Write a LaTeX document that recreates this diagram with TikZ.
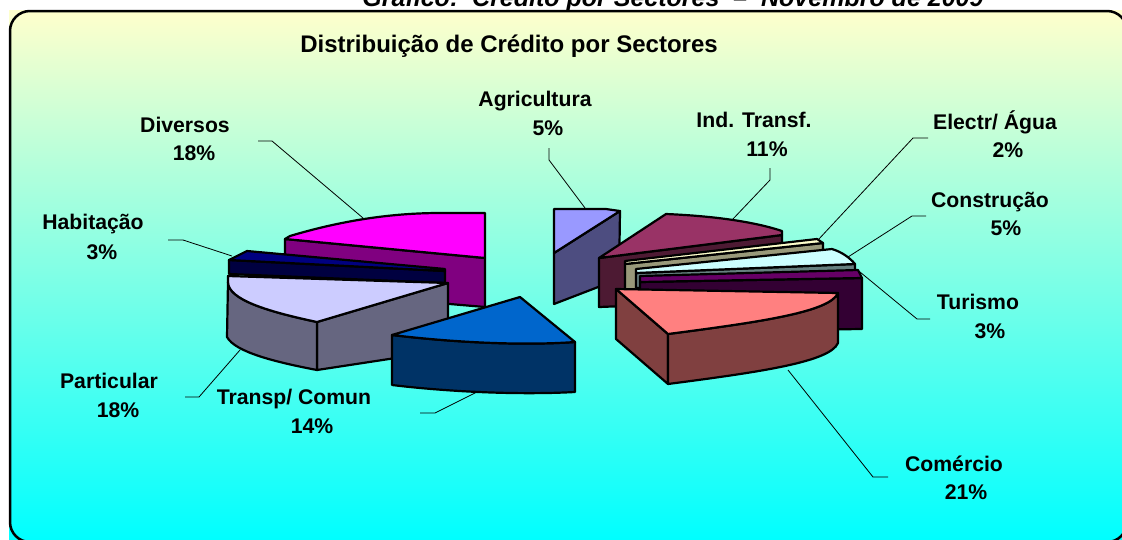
\documentclass[tikz,border=0pt]{standalone}
\usepackage{fontspec}
\setmainfont{Liberation Sans}
\definecolor{bgtop}{HTML}{FFFFCC}
\definecolor{bgbot}{HTML}{00FFFF}
\definecolor{agriT}{HTML}{9999FF}
\definecolor{agriS}{HTML}{4D4D80}
\definecolor{indT}{HTML}{993366}
\definecolor{indS}{HTML}{4D1A33}
\definecolor{eleT}{HTML}{FFFFCC}
\definecolor{eleS}{HTML}{99997A}
\definecolor{conT}{HTML}{CCFFFF}
\definecolor{conS}{HTML}{668080}
\definecolor{turT}{HTML}{660066}
\definecolor{turS}{HTML}{330033}
\definecolor{comT}{HTML}{FF8080}
\definecolor{comS}{HTML}{804040}
\definecolor{trT}{HTML}{0066CC}
\definecolor{trS}{HTML}{003366}
\definecolor{parT}{HTML}{CCCCFF}
\definecolor{parS}{HTML}{666680}
\definecolor{habT}{HTML}{000080}
\definecolor{habS}{HTML}{000040}
\definecolor{divT}{HTML}{FF00FF}
\definecolor{divS}{HTML}{800080}
\tikzset{
  slice/.style={draw=black, line width=2.2pt, line join=round},
  leader/.style={draw=black, line width=0.8pt},
  lbl/.style={anchor=base, inner sep=0pt, font=\fontsize{21.2}{25}\selectfont\bfseries},
  ttl/.style={anchor=base, inner sep=0pt, font=\fontsize{24}{28}\selectfont\bfseries},
  toptitle/.style={anchor=base, inner sep=0pt, font=\fontsize{25}{30}\selectfont\bfseries\itshape}
}
\begin{document}
\begin{tikzpicture}[x=1pt,y=-1pt]
\useasboundingbox (0,0) rectangle (1122,539);
\fill[white] (0,0) rectangle (1122,539);
% background panel
\shade[top color=bgtop, bottom color=bgbot] (9,10) rectangle (1122,539);
\draw[line width=2.5pt, rounded corners=20pt] (10,11) rectangle (1127,542);
% top (clipped) caption
\node[toptitle] (caption) at (673,6) {Gráfico:\ \ Crédito por Sectores\ \ –\ \ Novembro de 2009};
\node[ttl] (title) at (509,52) {Distribuição de Crédito por Sectores};

% ---------- right group ----------
% Agricultura
\draw[slice, fill=agriS] (554,253) -- (620,211) -- (619,279) -- (554,304) -- cycle;
\draw[slice, fill=agriT] (554,209) -- (606,209) -- (620,211) -- (554,253) -- cycle;
% Ind. Transf.
\draw[slice, fill=indS] (599,258) -- (782,235) -- (782,300) -- (599,307) -- cycle;
\draw[slice, fill=indT] (599,258) -- (666,214) .. controls (715,216) and (755,222) .. (782,231) -- (782,235) -- cycle;
% Electr/ Agua
\draw[slice, fill=eleS] (625,264) -- (823,243) -- (823,290) -- (625,292) -- cycle;
\draw[slice, fill=eleT] (625,261) -- (817,239) -- (823,243) -- (625,264) -- cycle;
% Construcao
\draw[slice, fill=conS] (636,273) -- (855,264) -- (855,290) -- (636,288) -- cycle;
\draw[slice, fill=conT] (636,269) -- (832,249) .. controls (842,252) and (850,258) .. (855,264) -- (636,273) -- cycle;
% Turismo
\draw[slice, fill=turS] (640,282) -- (862,278) -- (862,329) -- (640,332) -- cycle;
\draw[slice, fill=turT] (640,276) -- (858,270) -- (862,278) -- (640,282) -- cycle;
% Comercio
\draw[slice, fill=comS] (616,289) -- (668,334) -- (668,384) -- (616,339) -- cycle;
\draw[slice, fill=comS] (668,334) .. controls (760,322) and (830,312) .. (838,293) -- (838,343) .. controls (830,362) and (760,372) .. (668,384) -- cycle;
\draw[slice, fill=comT] (616,289) -- (838,293) .. controls (830,312) and (760,322) .. (668,334) -- cycle;

% ---------- left group ----------
% Diversos
\draw[slice, fill=divS] (285,239) -- (485,258) -- (485,307) -- (285,290) -- cycle;
\draw[slice, fill=divT] (285,239) -- (290,236) .. controls (340,221) and (390,213) .. (440,213) -- (485,213) -- (485,258) -- cycle;
% Habitacao
\draw[slice, fill=habS] (229,260) -- (445,271) -- (445,283) -- (229,274) -- cycle;
\draw[slice, fill=habT] (229,260) -- (247,251) -- (445,269) -- (445,271) -- cycle;
% Particular
\draw[slice, fill=parS] (317,322) -- (448,283) -- (448,350) -- (317,370) -- cycle;
\draw[slice, fill=parS] (228,282) .. controls (228,300) and (270,312) .. (317,322) -- (317,370) .. controls (275,362) and (235,352) .. (227,337) -- cycle;
\draw[slice, fill=parT] (228,276) -- (448,283) -- (317,322) .. controls (270,312) and (228,300) .. (228,282) -- cycle;
% Transp/ Comun
\draw[slice, fill=trS] (392,335) .. controls (450,342) and (520,346) .. (575,342) -- (575,392) .. controls (520,395) and (450,392) .. (392,385) -- cycle;
\draw[slice, fill=trT] (392,335) -- (520,297) -- (575,342) .. controls (520,346) and (450,342) .. (392,335) -- cycle;

% ---------- labels ----------
\node[lbl] (divN) at (185,132) {Diversos};
\node[lbl] (divP) at (194,160) {18\%};
\node[lbl] (habN) at (93,229) {Habitação};
\node[lbl] (habP) at (102,259) {3\%};
\node[lbl] (parN) at (109,388) {Particular};
\node[lbl] (parP) at (118,417) {18\%};
\node[lbl] (trN) at (294,404) {Transp/ Comun};
\node[lbl] (trP) at (312,433) {14\%};
\node[lbl] (agrN) at (535,106) {Agricultura};
\node[lbl] (agrP) at (548,135) {5\%};
\node[lbl] (indN) at (754,127) {Ind. Transf.};
\node[lbl] (indP) at (767,156) {11\%};
\node[lbl] (eleN) at (995,129) {Electr/ Água};
\node[lbl] (eleP) at (1008,157) {2\%};
\node[lbl] (conN) at (990,207) {Construção};
\node[lbl] (conP) at (1006,235) {5\%};
\node[lbl] (turN) at (978,309) {Turismo};
\node[lbl] (turP) at (990,338) {3\%};
\node[lbl] (comN) at (954,471) {Comércio};
\node[lbl] (comP) at (966,499) {21\%};

% ---------- leader lines ----------
\coordinate (divA) at (363,218); \coordinate (divB) at (272,141); \coordinate (divC) at (258,141);
\coordinate (habA) at (232,256); \coordinate (habB) at (183,240); \coordinate (habC) at (168,240);
\coordinate (parA) at (240,350); \coordinate (parB) at (199,397); \coordinate (parC) at (185,397);
\coordinate (trA) at (477,392); \coordinate (trB) at (435,413); \coordinate (trC) at (420,413);
\coordinate (agrA) at (585,208); \coordinate (agrB) at (549,160); \coordinate (agrC) at (549,148);
\coordinate (indA) at (732,220); \coordinate (indB) at (770,180); \coordinate (indC) at (770,168);
\coordinate (eleA) at (818,240); \coordinate (eleB) at (913,138); \coordinate (eleC) at (928,138);
\coordinate (conA) at (848,257); \coordinate (conB) at (912,216); \coordinate (conC) at (926,216);
\coordinate (turA) at (860,272); \coordinate (turB) at (917,319); \coordinate (turC) at (930,319);
\coordinate (comA) at (788,370); \coordinate (comB) at (873,477); \coordinate (comC) at (888,477);
\draw[leader] (divA) -- (divB) -- (divC);
\draw[leader] (habA) -- (habB) -- (habC);
\draw[leader] (parA) -- (parB) -- (parC);
\draw[leader] (trA) -- (trB) -- (trC);
\draw[leader] (agrA) -- (agrB) -- (agrC);
\draw[leader] (indA) -- (indB) -- (indC);
\draw[leader] (eleA) -- (eleB) -- (eleC);
\draw[leader] (conA) -- (conB) -- (conC);
\draw[leader] (turA) -- (turB) -- (turC);
\draw[leader] (comA) -- (comB) -- (comC);
\end{tikzpicture}
\end{document}
